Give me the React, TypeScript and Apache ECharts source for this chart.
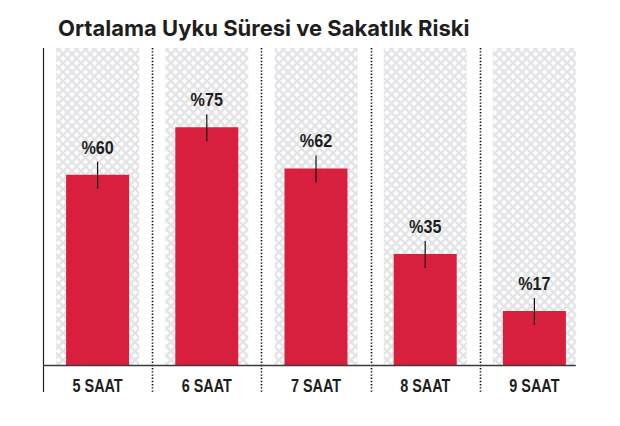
import React, { useEffect, useRef } from "react";
import * as echarts from "echarts";

const title = "Ortalama Uyku Süresi ve Sakatlık Riski";
const categories = ["5 SAAT", "6 SAAT", "7 SAAT", "8 SAAT", "9 SAAT"];
const riskValues = [60, 75, 62, 35, 17];
const backgroundValues = [100, 100, 100, 100, 100];
const yMax = 100;

function makePattern() {
  const s = 9;
  const c = document.createElement("canvas");
  c.width = s;
  c.height = s;
  const ctx = c.getContext("2d")!;
  ctx.fillStyle = "#ffffff";
  ctx.fillRect(0, 0, s, s);
  ctx.strokeStyle = "#e3e4e6";
  ctx.lineWidth = 2.6;
  for (const k of [-s, 0, s]) {
    ctx.beginPath();
    ctx.moveTo(-2 + k, -2);
    ctx.lineTo(s + 2 + k, s + 2);
    ctx.stroke();
    ctx.beginPath();
    ctx.moveTo(s + 2 + k, -2);
    ctx.lineTo(-2 + k, s + 2);
    ctx.stroke();
  }
  return c;
}

export default function App() {
  const ref = useRef<HTMLDivElement>(null);
  useEffect(() => {
    if (!ref.current) return;
    const chart = echarts.init(ref.current, undefined, { renderer: "svg" });
    const pattern = makePattern();
    const font = "'Liberation Sans', Arial, sans-serif";
    const option: any = {
      animation: false,
      backgroundColor: "#ffffff",
      title: {
        text: title,
        left: 53,
        top: 12,
        textStyle: {
          fontFamily: "Inter, sans-serif",
          fontWeight: 700,
          fontSize: 22,
          color: "#1e1e1e",
        },
      },
      grid: { left: 43, right: 31, top: 48, bottom: 61 },
      xAxis: [
        {
          type: "category",
          data: categories,
          axisLine: { show: false },
          axisTick: { show: false },
          axisLabel: { show: false },
          splitLine: { show: false },
        },
        {
          type: "category",
          data: categories,
          show: false,
          position: "bottom",
        },
      ],
      yAxis: {
        type: "value",
        min: 0,
        max: yMax,
        show: false,
        splitLine: { show: false },
      },
      series: [
        {
          type: "bar",
          xAxisIndex: 1,
          data: backgroundValues,
          barWidth: 83,
          silent: true,
          itemStyle: {
            color: { image: pattern, repeat: "repeat", imageWidth: 9, imageHeight: 9 },
          },
          z: 1,
        },
        {
          type: "bar",
          xAxisIndex: 0,
          data: riskValues,
          barWidth: 63,
          itemStyle: { color: "#d91f3e" },
          z: 3,
        },
        {
          type: "custom",
          xAxisIndex: 0,
          data: riskValues.map((v, i) => [i, v]),
          clip: false,
          z: 5,
          renderItem: (params: any, api: any) => {
            const v = api.value(1);
            const p = api.coord([api.value(0), v]);
            return {
              type: "group",
              children: [
                {
                  type: "line",
                  shape: { x1: p[0], y1: p[1] - 13, x2: p[0], y2: p[1] + 14 },
                  style: { stroke: "#111", lineWidth: 1.2 },
                },
                {
                  type: "text",
                  x: p[0],
                  y: p[1] - 18,
                  scaleX: 0.9,
                  style: {
                    text: "%" + v,
                    fontFamily: font,
                    fontWeight: "bold",
                    fontSize: 18,
                    fill: "#1e1e1e",
                    align: "center",
                    verticalAlign: "bottom",
                  },
                },
              ],
            };
          },
        },
        {
          type: "custom",
          xAxisIndex: 0,
          data: categories.map((_, i) => [i, 0]),
          clip: false,
          z: 6,
          silent: true,
          renderItem: (params: any, api: any) => {
            const i = api.value(0);
            const w = api.size([1, 0])[0];
            const base = api.coord([i, 0]);
            const top = api.coord([i, yMax])[1];
            const xl = Math.round(base[0] - w / 2) + 0.5;
            const xr = i === categories.length - 1 ? base[0] + 41.5 : base[0] + w / 2;
            const yb = Math.round(base[1]) + 0.5;
            const children: any[] = [];
            children.push({
              type: "line",
              shape: { x1: xl, y1: top, x2: xl, y2: base[1] + 27 },
              style:
                i === 0
                  ? { stroke: "#222", lineWidth: 1.2 }
                  : { stroke: "#111", lineWidth: 1.6, lineDash: [1.4, 1.8] },
            });
            children.push({
              type: "line",
              shape: { x1: xl - 0.5, y1: yb, x2: xr, y2: yb },
              style: { stroke: "#3a3a3a", lineWidth: 1.4 },
            });
            children.push({
              type: "text",
              x: base[0],
              y: base[1] + 11,
              scaleX: 0.8,
              style: {
                text: categories[i],
                fontFamily: font,
                fontWeight: "bold",
                fontSize: 18,
                fill: "#1e1e1e",
                align: "center",
                verticalAlign: "top",
              },
            });
            return { type: "group", children };
          },
        },
      ],
    };
    chart.setOption(option);
    return () => chart.dispose();
  }, []);
  return (
    <div
      ref={ref}
      style={{ position: "fixed", left: 0, top: 0, width: 620, height: 426 }}
    />
  );
}
